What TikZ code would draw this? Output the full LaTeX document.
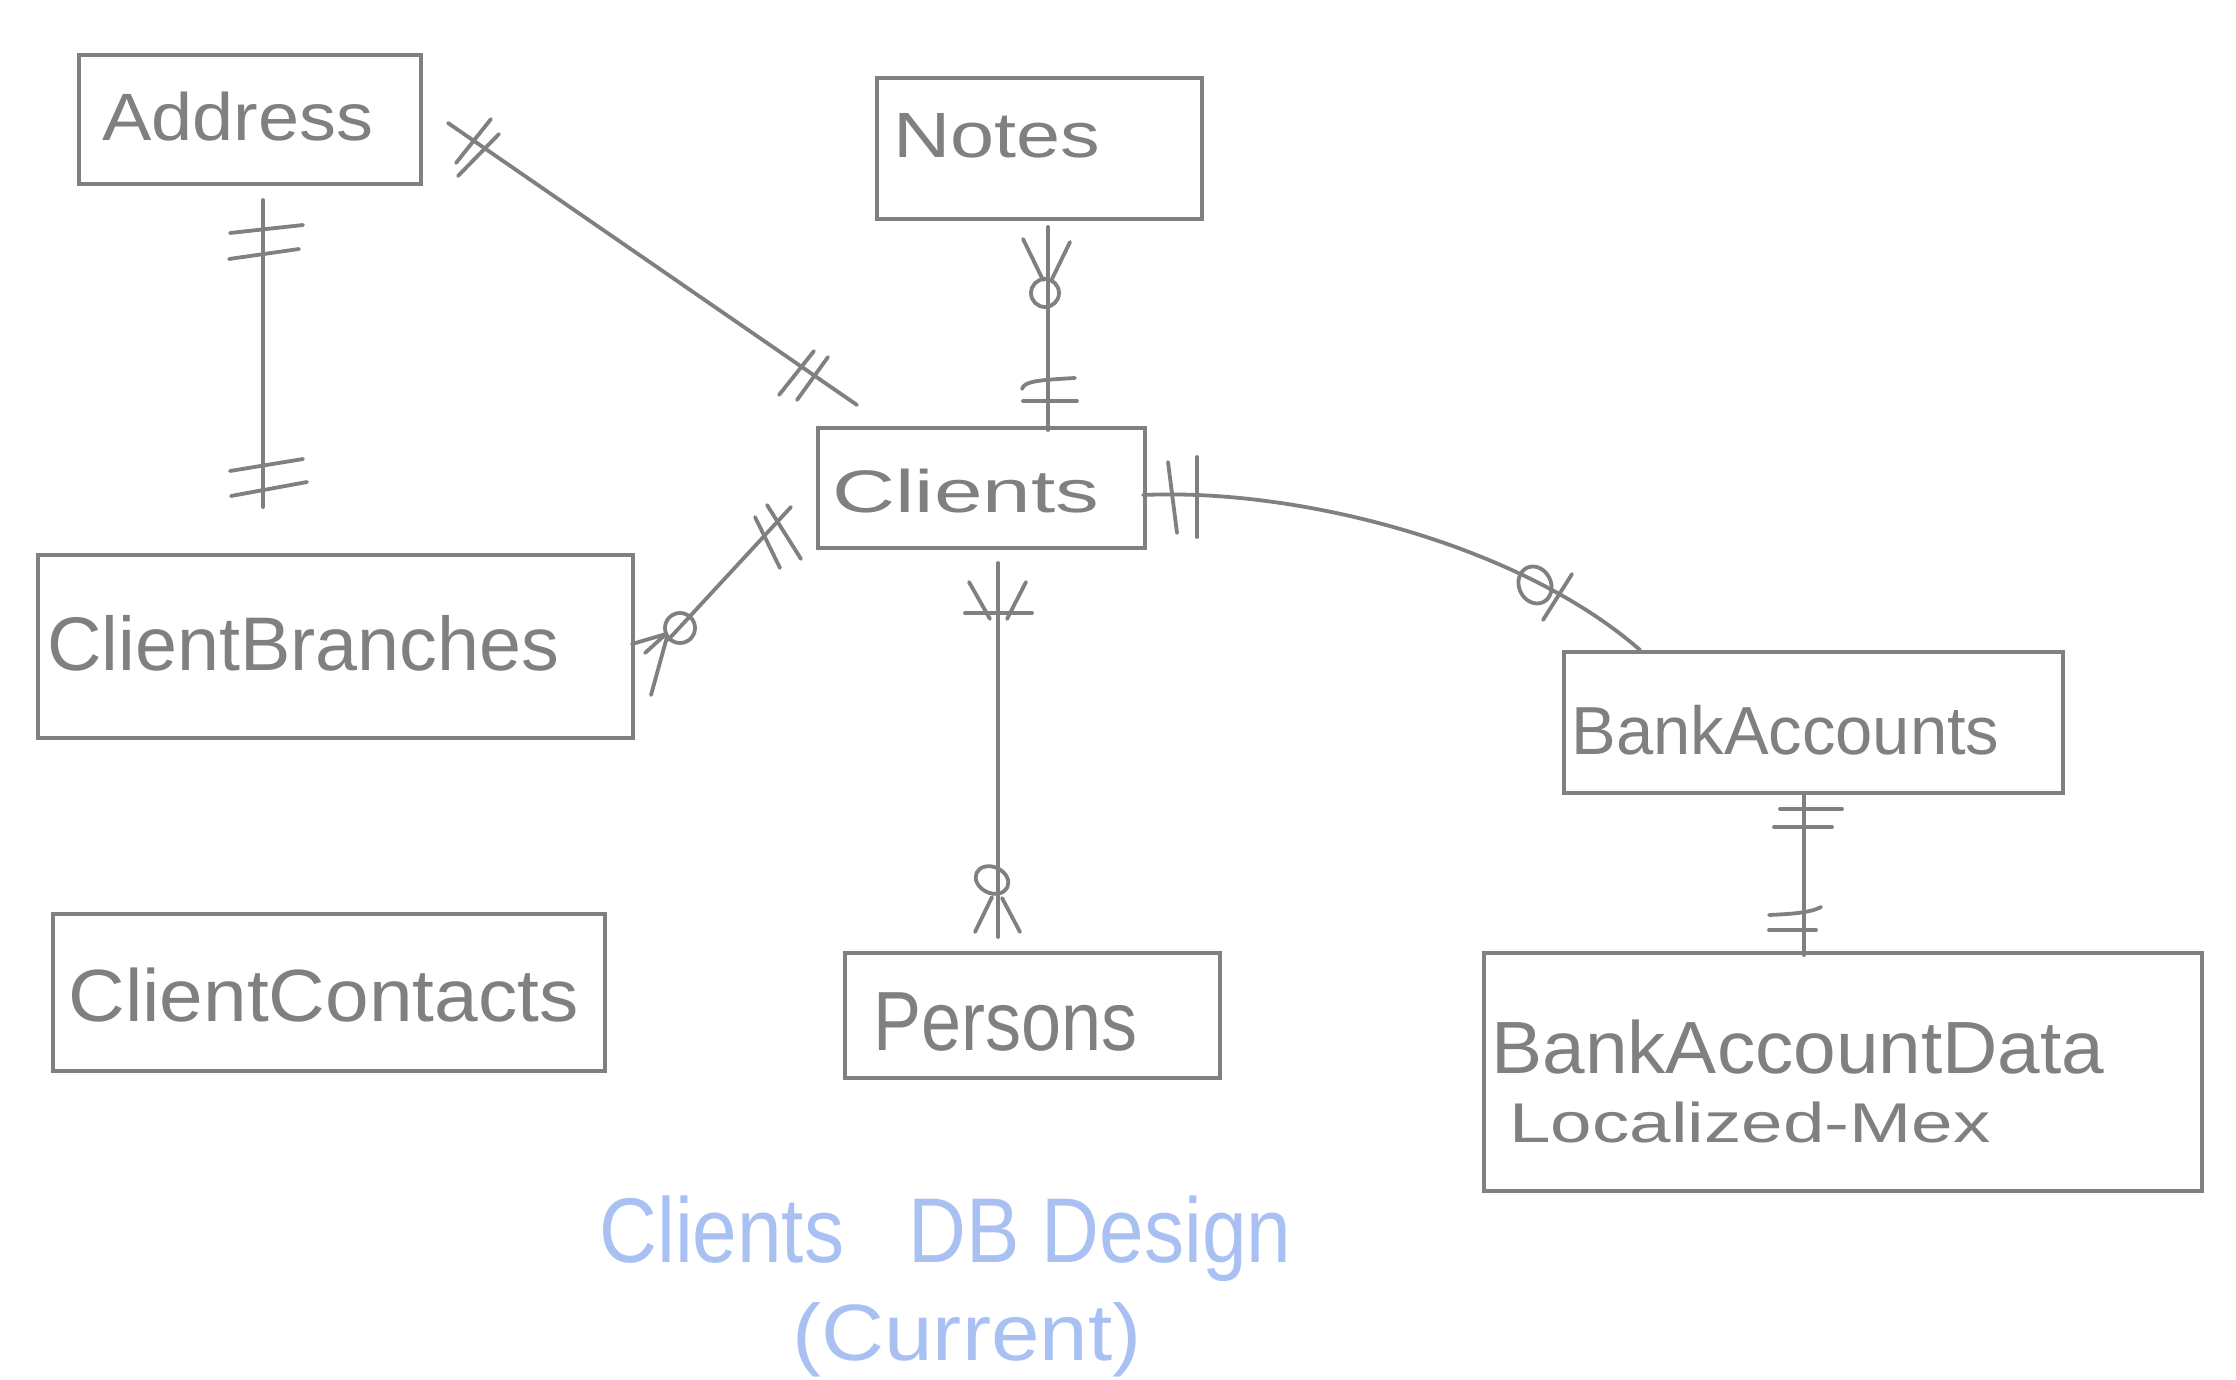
\documentclass[tikz,border=0pt]{standalone}
\usepackage{fontspec}
\setmainfont{Liberation Sans}
\usepackage{graphicx}
\definecolor{lg}{HTML}{808080}
\definecolor{tb}{HTML}{A9C1F2}
\newcommand{\hwt}[3]{\resizebox{#1}{\height}{\fontsize{#2}{#2}\selectfont #3}}
\begin{document}
\begin{tikzpicture}[x=0.5pt,y=-0.5pt,
  ent/.style={draw=lg, line width=2.2pt, inner sep=0pt, anchor=north west},
  lab/.style={anchor=base west, inner sep=0pt, text=lg},
  ttl/.style={anchor=base west, inner sep=0pt, text=tb},
  conn/.style={draw=lg, line width=1.9pt, line cap=round, line join=round},
  mk/.style={draw=lg, line width=1.9pt, line cap=round, line join=round}]
\fill[white] (0,0) rectangle (2236,1380);
\useasboundingbox (0,0) rectangle (2236,1380);

% entity boxes
\node[ent, minimum width=171pt,   minimum height=64.5pt] (addr)     at (77,53) {};
\node[ent, minimum width=162.5pt, minimum height=70.5pt] (notes)    at (875,76) {};
\node[ent, minimum width=163.5pt, minimum height=60pt]   (clients)  at (816,426) {};
\node[ent, minimum width=297.5pt, minimum height=91.5pt] (branches) at (36,553) {};
\node[ent, minimum width=249.5pt, minimum height=70.5pt] (bank)     at (1562,650) {};
\node[ent, minimum width=276pt,   minimum height=78.5pt] (contacts) at (51,912) {};
\node[ent, minimum width=187.5pt, minimum height=62.5pt] (persons)  at (843,951) {};
\node[ent, minimum width=359pt,   minimum height=119pt]  (bankdata) at (1482,951) {};

% labels
\node[lab] (taddr)     at (102,141)  {\hwt{135.5pt}{33.5pt}{Address}};
\node[lab] (tnotes)    at (893,158)  {\hwt{103.5pt}{32pt}{Notes}};
\node[lab] (tclients)  at (832,512)  {\hwt{133.5pt}{30pt}{Clients}};
\node[lab] (tbranches) at (47,670)   {\hwt{256pt}{38pt}{ClientBranches}};
\node[lab] (tbank)     at (1571,754) {\hwt{214pt}{34pt}{BankAccounts}};
\node[lab] (tcontacts) at (68,1021)  {\hwt{255pt}{37pt}{ClientContacts}};
\node[lab] (tpersons)  at (873,1050) {\hwt{132pt}{42pt}{Persons}};
\node[lab] (tbd1)      at (1491,1073) {\hwt{306.5pt}{37pt}{BankAccountData}};
\node[lab] (tbd2)      at (1509,1142) {\hwt{240.5pt}{28pt}{Localized-Mex}};
\node[ttl] (title1)    at (599,1262) {\hwt{346pt}{46pt}{Clients\hspace{0.8em}DB Design}};
\node[ttl] (title2)    at (792,1360) {\hwt{174.5pt}{40pt}{(Current)}};

% connector end points
\coordinate (c1a) at (263,200);  \coordinate (c1b) at (263,507);
\coordinate (c2a) at (448,123);  \coordinate (c2b) at (857,405);
\coordinate (c3a) at (1048,227); \coordinate (c3b) at (1048,430);
\coordinate (c4a) at (668,640);  \coordinate (c4b) at (791,507);
\coordinate (c5a) at (998,563);  \coordinate (c5b) at (998,937);
\coordinate (c6a) at (1143,495); \coordinate (c6b) at (1640,650);
\coordinate (c7a) at (1804,794); \coordinate (c7b) at (1804,955);

% Address -- ClientBranches
\draw[conn] (c1a) -- (c1b);
\draw[mk] (230,233) -- (303,225);
\draw[mk] (229,259) -- (299,249);
\draw[mk] (230,471) -- (303,459);
\draw[mk] (231,496) -- (307,482);

% Address -- Clients
\draw[conn] (c2a) -- (c2b);
\draw[mk] (491,119) -- (456,163);
\draw[mk] (499,134) -- (458,176);
\draw[mk] (814,351) -- (779,395);
\draw[mk] (828,357) -- (797,400);

% Notes -- Clients
\draw[conn] (c3a) -- (c3b);
\draw[mk] (1023,239) -- (1043,280);
\draw[mk] (1070,242) -- (1052,279);
\draw[mk] (1045,293) circle[radius=7pt];
\draw[mk] (1022,389) .. controls (1024,381) and (1040,380) .. (1075,378);
\draw[mk] (1023,401) -- (1077,401);

% ClientBranches -- Clients
\draw[conn] (c4a) -- (c4b);
\draw[mk] (632,644) -- (666,634);
\draw[mk] (645,653) -- (666,634);
\draw[mk] (651,695) -- (667,637);
\draw[mk] (680,628) circle[radius=7.5pt];
\draw[mk] (755,517) -- (780,568);
\draw[mk] (767,505) -- (801,559);

% Clients -- Persons
\draw[conn] (c5a) -- (c5b);
\draw[mk] (969,582) -- (990,619);
\draw[mk] (1026,582) -- (1007,619);
\draw[mk] (965,613) -- (1032,613);
\draw[mk, rotate around={-25:(992,880)}] (992,880) ellipse[x radius=8.5pt, y radius=6.5pt];
\draw[mk] (992,897) -- (975,932);
\draw[mk] (1002,898) -- (1020,932);

% Clients -- BankAccounts
\draw[conn] (c6a) .. controls (1300,488) and (1520,545) .. (c6b);
\draw[mk] (1168,462) -- (1177,533);
\draw[mk] (1197,457) -- (1197,537);
\draw[mk, rotate around={25:(1535,585)}] (1535,585) ellipse[x radius=8pt, y radius=9.5pt];
\draw[mk] (1572,574) -- (1543,620);

% BankAccounts -- BankAccountData
\draw[conn] (c7a) -- (c7b);
\draw[mk] (1780,809) -- (1842,809);
\draw[mk] (1774,827) -- (1832,827);
\draw[mk] (1769,915) .. controls (1790,914) and (1810,913) .. (1821,907);
\draw[mk] (1769,930) -- (1816,930);
\end{tikzpicture}
\end{document}
